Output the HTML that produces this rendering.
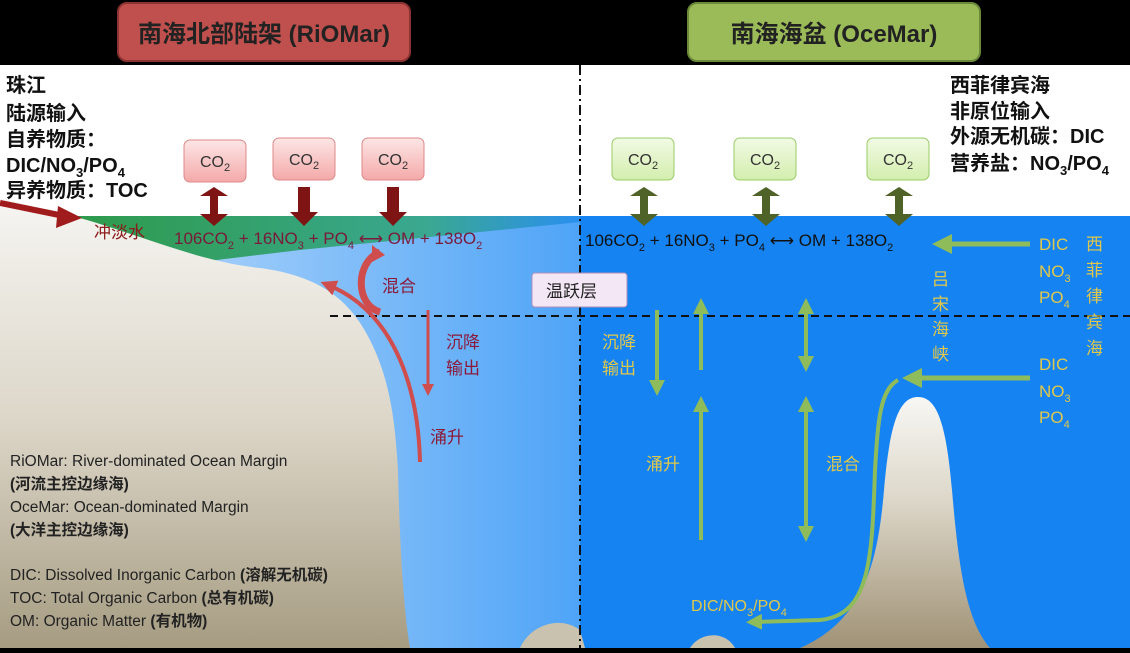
<!DOCTYPE html>
<html><head><meta charset="utf-8"><style>
body{margin:0;width:1130px;height:648px;overflow:hidden;background:#000;font-family:"Liberation Sans","Noto Sans CJK SC",sans-serif}
svg text{font-family:"Liberation Sans","Noto Sans CJK SC",sans-serif}
</style></head><body>
<svg width="1130" height="648" viewBox="0 0 1130 648" xmlns="http://www.w3.org/2000/svg">
<defs>
<linearGradient id="land" x1="0" y1="0" x2="0" y2="1"><stop offset="0" stop-color="#f6f5f2"/><stop offset="0.5" stop-color="#dcd6c8"/><stop offset="1" stop-color="#a69c82"/></linearGradient>
<linearGradient id="mt" x1="0" y1="0" x2="0" y2="1"><stop offset="0" stop-color="#f8f7f4"/><stop offset="0.4" stop-color="#ddd8ca"/><stop offset="1" stop-color="#a09276"/></linearGradient>
<linearGradient id="shelf" x1="0" y1="0" x2="1" y2="0"><stop offset="0" stop-color="#cde4fb"/><stop offset="1" stop-color="#4fa4f7"/></linearGradient>
<linearGradient id="green" x1="0" y1="0" x2="1" y2="0"><stop offset="0" stop-color="#2e9a4a"/><stop offset="0.7" stop-color="#3aa890"/><stop offset="1" stop-color="#2a8ff0"/></linearGradient>
<linearGradient id="red" x1="0" y1="0" x2="0" y2="1"><stop offset="0" stop-color="#fde6e6"/><stop offset="1" stop-color="#f4a9a9"/></linearGradient>
<linearGradient id="grn" x1="0" y1="0" x2="0" y2="1"><stop offset="0" stop-color="#f2fae4"/><stop offset="1" stop-color="#d3eeae"/></linearGradient>
<marker id="ag" markerWidth="4" markerHeight="4" refX="2" refY="2" orient="auto"><path d="M0,0 L4,2 L0,4 z" fill="#8fbc5a"/></marker>
<marker id="ar" markerWidth="4" markerHeight="4" refX="2" refY="2" orient="auto"><path d="M0,0 L4,2 L0,4 z" fill="#d04d4d"/></marker>
</defs>
<rect x="0" y="65" width="1130" height="583" fill="#fff"/>
<rect x="0" y="216" width="1130" height="432" fill="#1683f2"/>
<rect x="0" y="216" width="580" height="432" fill="url(#shelf)"/>
<polygon points="70,216 580,216 580,222 300,250 200,262" fill="url(#green)"/>
<path d="M0,198 L80,218 C140,235 200,262 260,268 C320,276 350,300 370,340 C390,380 395,420 398,470 C400,560 405,620 410,648 L0,648 Z" fill="url(#land)"/>
<path d="M800,648 C865,620 878,560 884,490 C890,420 900,397 918,397 C936,397 946,420 952,490 C958,560 965,620 990,648 Z" fill="url(#mt)"/>
<path d="M520,648 C530,625 560,615 580,630 L585,648 Z" fill="#c9c2ae"/>
<path d="M690,648 C700,632 725,630 735,648 Z" fill="#c9c2ae"/>
<line x1="580" y1="65" x2="580" y2="648" stroke="#111" stroke-width="2" stroke-dasharray="10,4,2,4"/>
<line x1="330" y1="316" x2="1130" y2="316" stroke="#111" stroke-width="2" stroke-dasharray="8,5"/>
<rect x="118" y="3" width="292" height="58" rx="9" fill="#c0504d" stroke="#8c3331" stroke-width="2"/>
<text x="264" y="42" font-size="24" font-weight="bold" text-anchor="middle" fill="#222">南海北部陆架 (RiOMar)</text>
<rect x="688" y="3" width="292" height="58" rx="9" fill="#9bbb59" stroke="#6a8a3a" stroke-width="2"/>
<text x="834" y="42" font-size="24" font-weight="bold" text-anchor="middle" fill="#222">南海海盆 (OceMar)</text>
<g font-size="20" font-weight="bold" fill="#111">
<text x="6" y="92">珠江</text><text x="6" y="120">陆源输入</text><text x="6" y="146">自养物质：</text>
<text x="6" y="172">DIC/NO<tspan font-size="13" dy="5">3</tspan><tspan dy="-5">/PO</tspan><tspan font-size="13" dy="5">4</tspan></text>
<text x="6" y="197">异养物质：TOC</text>
<text x="950" y="92">西菲律宾海</text><text x="950" y="118">非原位输入</text><text x="950" y="143">外源无机碳：DIC</text>
<text x="950" y="170">营养盐：NO<tspan font-size="13" dy="5">3</tspan><tspan dy="-5">/PO</tspan><tspan font-size="13" dy="5">4</tspan></text>
</g>
<g font-size="16" fill="#333" text-anchor="middle">
<rect x="184" y="140" width="62" height="42" rx="6" fill="url(#red)" stroke="#d88" />
<rect x="273" y="138" width="62" height="42" rx="6" fill="url(#red)" stroke="#d88"/>
<rect x="362" y="138" width="62" height="42" rx="6" fill="url(#red)" stroke="#d88"/>
<text x="215" y="167">CO<tspan font-size="11" dy="4">2</tspan></text>
<text x="304" y="165">CO<tspan font-size="11" dy="4">2</tspan></text>
<text x="393" y="165">CO<tspan font-size="11" dy="4">2</tspan></text>
<rect x="612" y="138" width="62" height="42" rx="6" fill="url(#grn)" stroke="#9c6"/>
<rect x="734" y="138" width="62" height="42" rx="6" fill="url(#grn)" stroke="#9c6"/>
<rect x="867" y="138" width="62" height="42" rx="6" fill="url(#grn)" stroke="#9c6"/>
<text x="643" y="165">CO<tspan font-size="11" dy="4">2</tspan></text>
<text x="765" y="165">CO<tspan font-size="11" dy="4">2</tspan></text>
<text x="898" y="165">CO<tspan font-size="11" dy="4">2</tspan></text>
</g>
<g fill="#7f1414">
<polygon points="200,196 214,187 228,196 218,196 218,214 228,214 214,226 200,214 210,214 210,196"/>
<polygon points="298,187 310,187 310,212 318,212 304,226 290,212 298,212"/>
<polygon points="387,187 399,187 399,212 407,212 393,226 379,212 387,212"/>
</g>
<g fill="#4f6228">
<polygon points="630,196 644,187 658,196 648,196 648,214 658,214 644,226 630,214 640,214 640,196"/>
<polygon points="752,196 766,187 780,196 770,196 770,214 780,214 766,226 752,214 762,214 762,196"/>
<polygon points="885,196 899,187 913,196 903,196 903,214 913,214 899,226 885,214 895,214 895,196"/>
</g>
<line x1="0" y1="203" x2="64" y2="216" stroke="#a01c1c" stroke-width="6"/>
<polygon points="58,206 82,218 56,228" fill="#a01c1c"/>
<text x="94" y="238" font-size="17" fill="#8b1a1a">冲淡水</text>
<text x="174" y="244" font-size="17" fill="#7a1a3a">106CO<tspan font-size="11" dy="5">2</tspan><tspan dy="-5"> + 16NO</tspan><tspan font-size="11" dy="5">3</tspan><tspan dy="-5"> + PO</tspan><tspan font-size="11" dy="5">4</tspan><tspan dy="-5"> ⟷ OM + 138O</tspan><tspan font-size="11" dy="5">2</tspan></text>
<text x="585" y="246" font-size="17" fill="#111">106CO<tspan font-size="11" dy="5">2</tspan><tspan dy="-5"> + 16NO</tspan><tspan font-size="11" dy="5">3</tspan><tspan dy="-5"> + PO</tspan><tspan font-size="11" dy="5">4</tspan><tspan dy="-5"> ⟷ OM + 138O</tspan><tspan font-size="11" dy="5">2</tspan></text>
<path d="M380,252 C355,262 355,305 380,312" stroke="#d04d4d" stroke-width="7" fill="none"/>
<polygon points="372,245 385,255 372,262" fill="#d04d4d"/>
<line x1="428" y1="310" x2="428" y2="390" stroke="#d04d4d" stroke-width="3" marker-end="url(#ar)"/>
<path d="M420,462 C418,380 390,310 328,285" stroke="#d04d4d" stroke-width="4" fill="none" marker-end="url(#ar)"/>
<g font-size="17" fill="#8b1a3a">
<text x="382" y="292">混合</text><text x="446" y="348">沉降</text><text x="446" y="374">输出</text><text x="430" y="443">涌升</text>
</g>
<rect x="532" y="273" width="95" height="34" rx="3" fill="#f3e6f5" stroke="#b090b8"/>
<text x="546" y="297" font-size="17" fill="#222">温跃层</text>
<g stroke="#8fbc5a" stroke-width="4" fill="none">
<line x1="657" y1="310" x2="657" y2="388" marker-end="url(#ag)"/>
<line x1="701" y1="370" x2="701" y2="306" marker-end="url(#ag)"/>
<line x1="701" y1="540" x2="701" y2="404" marker-end="url(#ag)"/>
<line x1="806" y1="340" x2="806" y2="306" marker-end="url(#ag)"/>
<line x1="806" y1="340" x2="806" y2="364" marker-end="url(#ag)"/>
<line x1="806" y1="470" x2="806" y2="404" marker-end="url(#ag)"/>
<line x1="806" y1="470" x2="806" y2="534" marker-end="url(#ag)"/>
<line x1="1030" y1="244" x2="942" y2="244" stroke-width="5" marker-end="url(#ag)"/>
<line x1="1030" y1="378" x2="912" y2="378" stroke-width="5" marker-end="url(#ag)"/>
<path d="M898,380 C880,390 878,420 875,470 C872,560 870,615 820,620 L754,622" marker-end="url(#ag)"/>
</g>
<g font-size="17" fill="#e0c84a">
<text x="602" y="348">沉降</text><text x="602" y="374">输出</text>
<text x="646" y="470">涌升</text><text x="826" y="470">混合</text>
<text x="932" y="285">吕</text><text x="932" y="310">宋</text><text x="932" y="335">海</text><text x="932" y="360">峡</text>
<text x="1086" y="250">西</text><text x="1086" y="276">菲</text><text x="1086" y="302">律</text><text x="1086" y="328">宾</text><text x="1086" y="354">海</text>
<text x="1039" y="250">DIC</text><text x="1039" y="277">NO<tspan font-size="11" dy="5">3</tspan></text><text x="1039" y="303">PO<tspan font-size="11" dy="5">4</tspan></text>
<text x="1039" y="370">DIC</text><text x="1039" y="397">NO<tspan font-size="11" dy="5">3</tspan></text><text x="1039" y="423">PO<tspan font-size="11" dy="5">4</tspan></text>
<text x="691" y="611" font-size="16">DIC/NO<tspan font-size="11" dy="5">3</tspan><tspan dy="-5">/PO</tspan><tspan font-size="11" dy="5">4</tspan></text>
</g>
<g font-size="15.5" fill="#222">
<text x="10" y="466">RiOMar: River-dominated Ocean Margin</text>
<text x="10" y="489" font-weight="bold">(河流主控边缘海)</text>
<text x="10" y="512">OceMar: Ocean-dominated Margin</text>
<text x="10" y="535" font-weight="bold">(大洋主控边缘海)</text>
<text x="10" y="580">DIC:  Dissolved Inorganic Carbon <tspan font-weight="bold">(溶解无机碳)</tspan></text>
<text x="10" y="603">TOC: Total Organic Carbon <tspan font-weight="bold">(总有机碳)</tspan></text>
<text x="10" y="626">OM: Organic Matter <tspan font-weight="bold">(有机物)</tspan></text>
</g>
</svg>
</body></html>
